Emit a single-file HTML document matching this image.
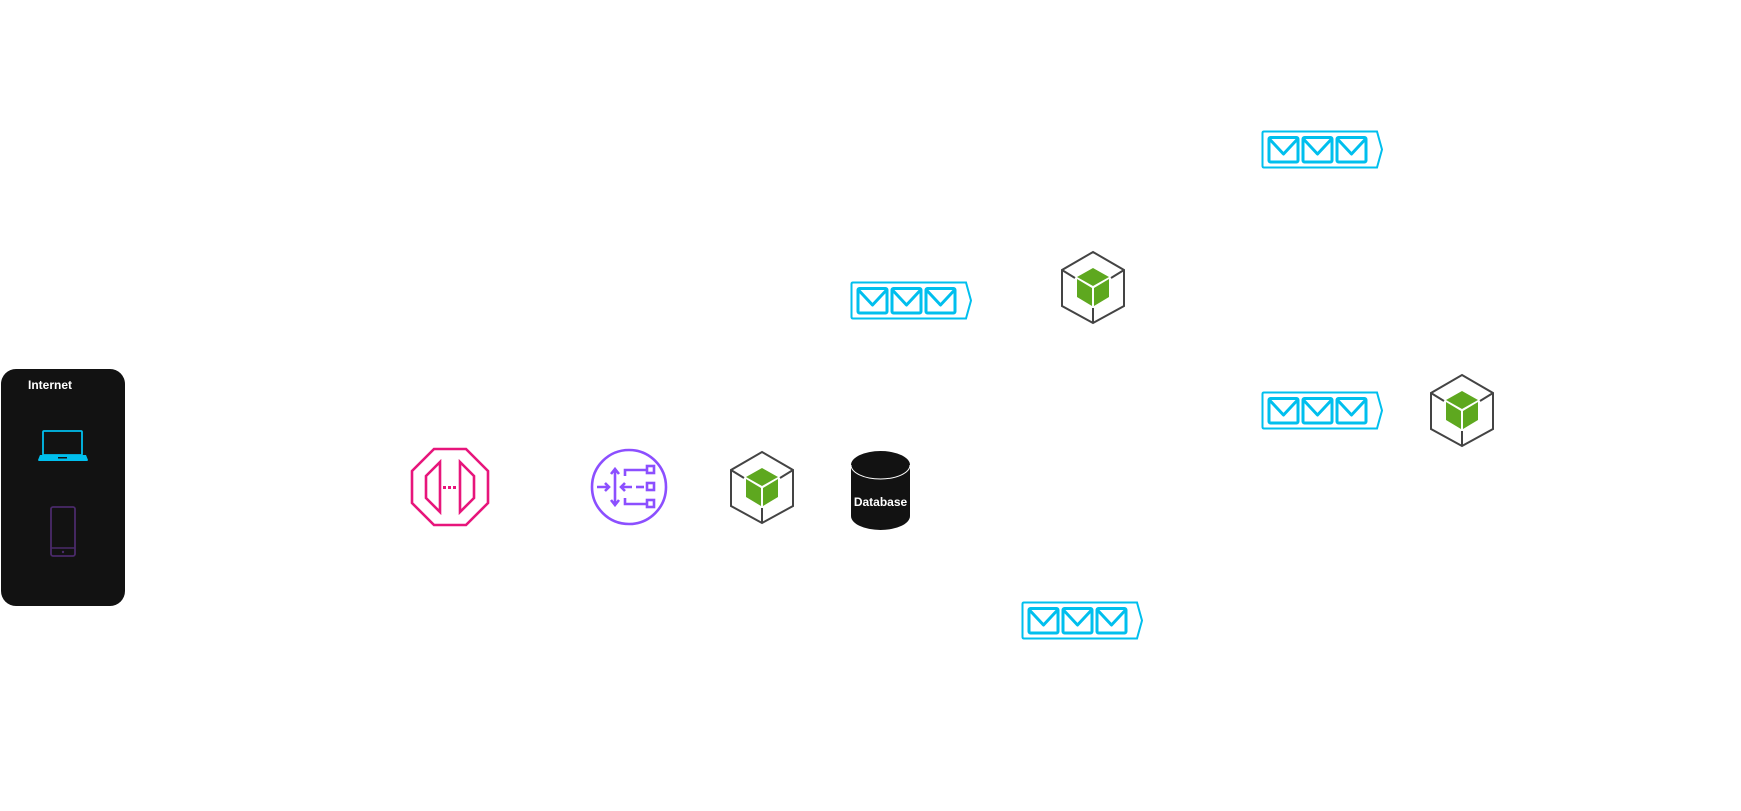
<!DOCTYPE html>
<html><head><meta charset="utf-8"><style>
html,body{margin:0;padding:0;background:#fff;width:1741px;height:811px;overflow:hidden}
svg{display:block}
</style></head><body>
<svg width="1741" height="811" viewBox="0 0 1741 811" xmlns="http://www.w3.org/2000/svg">
<defs>
  <g id="queue">
    <path d="M3,1.5 H116 L121,19.5 L116,37.5 H3 Q1.5,37.5 1.5,36 V3 Q1.5,1.5 3,1.5 Z" fill="none" stroke="#00bfee" stroke-width="2"/>
    <g fill="none" stroke="#00bfee" stroke-width="3" stroke-linejoin="round">
      <rect x="8" y="7.5" width="29" height="24.5" rx="1.5"/>
      <path d="M8,8.5 L22.5,24 L37,8.5"/>
      <rect x="42" y="7.5" width="29" height="24.5" rx="1.5"/>
      <path d="M42,8.5 L56.5,24 L71,8.5"/>
      <rect x="76" y="7.5" width="29" height="24.5" rx="1.5"/>
      <path d="M76,8.5 L90.5,24 L105,8.5"/>
    </g>
  </g>
  <g id="cube">
    <path d="M32,1 L63,19 L63,55 L32,72 L1,55 L1,19 Z" fill="none" stroke="#444" stroke-width="2"/>
    <path d="M1,19 L14,27 M63,19 L50,27 M32,72 V57" stroke="#444" stroke-width="2" fill="none"/>
    <path d="M32,17 L48,26 L32,35 L16,26 Z" fill="#5ea81f"/>
    <path d="M16,28 L31,37 V55 L16,46 Z" fill="#5ea81f"/>
    <path d="M48,28 L33,37 V55 L48,46 Z" fill="#5ea81f"/>
  </g>
</defs>

<rect x="1" y="369" width="124" height="237" rx="15" fill="#121212"/>
<text x="28" y="389" fill="#fff" font-family="Liberation Sans, sans-serif" font-size="12" font-weight="bold">Internet</text>
<rect x="43" y="431" width="39" height="24" rx="1" fill="none" stroke="#00bfee" stroke-width="1.8"/>
<path d="M40,455 H86 L88,460 Q88,461 86,461 H40 Q38,461 38,460 Z" fill="#00bfee"/>
<rect x="58" y="457" width="9" height="1.5" fill="#121212"/>
<rect x="51" y="507" width="24" height="49" rx="2" fill="none" stroke="#4a2a6a" stroke-width="1.8"/>
<line x1="51" y1="548" x2="75" y2="548" stroke="#4a2a6a" stroke-width="1.5"/>
<circle cx="63" cy="552" r="1.2" fill="#4a2a6a"/>

<g fill="none" stroke="#e7157b" stroke-width="2.6">
  <path d="M434,449 H466 L488,471 V503 L466,525 H434 L412,503 V471 Z"/>
  <path d="M440,462 L426,476 V498 L440,512 Z"/>
  <path d="M460,462 L474,476 V498 L460,512 Z"/>
</g>
<g fill="#e7157b"><rect x="443" y="486" width="3" height="3"/><rect x="448" y="486" width="3" height="3"/><rect x="453" y="486" width="3" height="3"/></g>

<g fill="none" stroke="#8c4fff" stroke-width="2.6">
  <circle cx="629" cy="487" r="37"/>
  <path d="M597,487 H609 M605,483 L609,487 L605,491"/>
  <path d="M615,470 V504 M611,474 L615,469 L619,474 M611,500 L615,505 L619,500"/>
  <path d="M621,487 H632 M625,483 L621,487 L625,491"/>
  <path d="M636,487 H644"/>
  <path d="M625,476 V470 H647 M625,498 V504 H647"/>
  <rect x="647" y="466" width="7" height="7"/>
  <rect x="647" y="483" width="7" height="7"/>
  <rect x="647" y="500" width="7" height="7"/>
</g>

<use href="#cube" x="730" y="451"/>
<use href="#cube" x="1061" y="251"/>
<use href="#cube" x="1430" y="374"/>

<path d="M851,465 A29.5,14 0 0 1 910,465 V516 A29.5,14 0 0 1 851,516 Z" fill="#121212"/>
<path d="M851,465 A29.5,14 0 0 0 910,465" fill="none" stroke="#fff" stroke-width="1"/>
<text x="880.5" y="506" fill="#fff" text-anchor="middle" font-family="Liberation Sans, sans-serif" font-size="12" font-weight="bold">Database</text>

<use href="#queue" x="850" y="281"/>
<use href="#queue" x="1261" y="130"/>
<use href="#queue" x="1261" y="391"/>
<use href="#queue" x="1021" y="601"/>
</svg>
</body></html>
